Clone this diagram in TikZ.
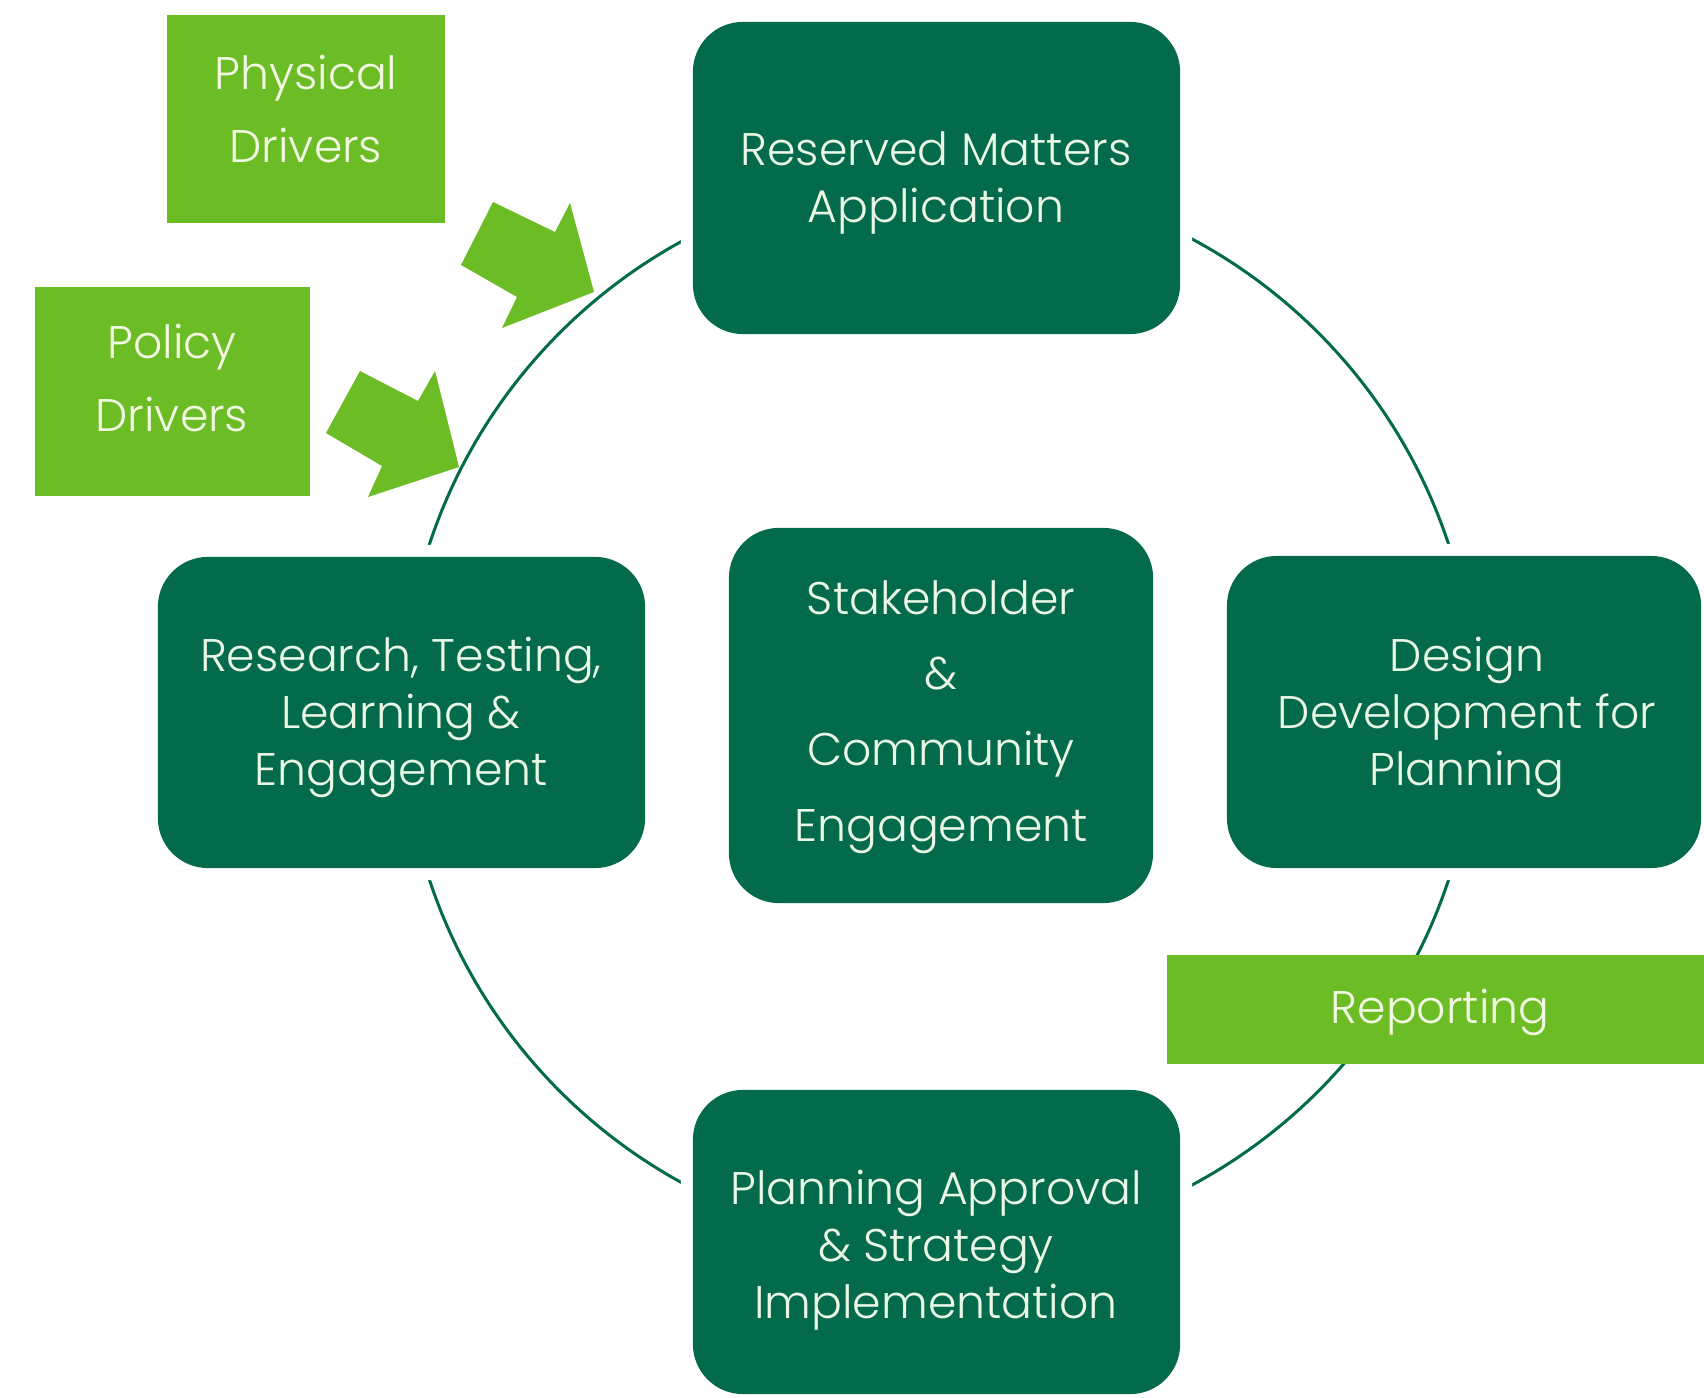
\documentclass[tikz,border=0pt]{standalone}
\usepackage{fontspec}
\IfFontExistsTF{Poppins Light}{\setmainfont{Poppins Light}}{\setmainfont{Poppins}}
\definecolor{dkgreen}{HTML}{036B4B}
\definecolor{lgreen}{HTML}{6CBC26}
\definecolor{paletext}{HTML}{EAF6E6}
\definecolor{paleltext}{HTML}{F2F9E2}
\begin{document}
\begin{tikzpicture}[x=0.01cm,y=-0.01cm,
  darkbox/.style={fill=dkgreen, rounded corners=0.5cm,
    preaction={draw=white, line width=0.24cm}, inner sep=0pt},
  greenbox/.style={fill=lgreen, inner sep=0pt},
  dtext/.style={text=paletext, align=center, inner sep=0pt,
    font=\fontsize{13}{16.2}\selectfont},
  gtext/.style={text=paleltext, align=center, inner sep=0pt,
    font=\fontsize{13}{20.5}\selectfont},
  drvarrow/.style={fill=lgreen}]
\useasboundingbox[fill=white] (0,0) rectangle (1704,1398);

% the cycle ring behind the stages
\coordinate (ctr) at (939,712);
\draw[dkgreen, line width=0.03cm] (ctr) circle[radius=5.36cm];

% stage boxes on the ring
\node[darkbox, minimum width=4.87cm, minimum height=3.12cm] (rma) at (936.5,178) {};
\node[darkbox, minimum width=4.74cm, minimum height=3.12cm] (ddp) at (1464,712) {};
\node[darkbox, minimum width=4.87cm, minimum height=3.04cm] (pas) at (936.5,1242) {};
\node[darkbox, minimum width=4.87cm, minimum height=3.11cm] (rtl) at (401.5,712.5) {};
\node[darkbox, minimum width=4.24cm, minimum height=3.75cm] (sce) at (941,715.5) {};

\node[dtext] (rmaT) at (936,183) {Reserved Matters\\Application};
\node[dtext] (ddpT) at (1467,717) {Design\\Development for\\Planning};
\node[dtext] (pasT) at (936,1250) {Planning Approval\\\& Strategy\\Implementation};
\node[dtext] (rtlT) at (401,717) {Research, Testing,\\Learning \&\\Engagement};
\node[dtext, font=\fontsize{13}{21.5}\selectfont] (sceT) at (941,717) {Stakeholder\\\&\\Community\\Engagement};

% drivers and reporting
\node[greenbox, minimum width=2.78cm, minimum height=2.08cm] (phys) at (306,119) {};
\node[greenbox, minimum width=2.75cm, minimum height=2.09cm] (pol) at (172.5,391.5) {};
\node[greenbox, minimum width=5.37cm, minimum height=1.09cm] (rep) at (1435.5,1009.5) {};

\node[gtext] (physT) at (306,109) {Physical\\Drivers};
\node[gtext] (polT) at (172,378) {Policy\\Drivers};
\node[gtext] (repT) at (1440,1012) {Reporting};

% block arrows feeding the ring
\fill[drvarrow] (493,202) -- (555,232) -- (570,203) -- (594,292) -- (502,328) -- (517,297) -- (461,265) -- cycle;
\fill[drvarrow] (360,371) -- (418,401) -- (435,371) -- (459,467) -- (368,497) -- (382,466) -- (326,433) -- cycle;
\end{tikzpicture}
\end{document}
